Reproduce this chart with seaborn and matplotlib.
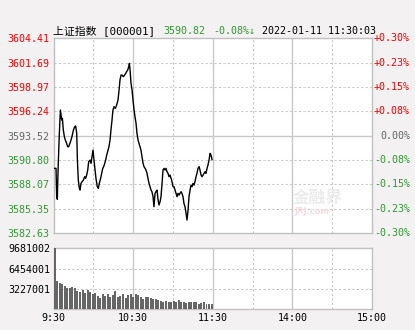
import numpy as np
import pandas as pd
import matplotlib
matplotlib.use("Agg")
import matplotlib.pyplot as plt
import matplotlib.transforms as mtransforms
import seaborn as sns

# ---------------- data ----------------
minutes = [0.6, 1.9, 2.4, 2.9, 3.1, 3.6, 4.4, 5.2, 6.2, 6.7, 7.4, 8.2, 8.9, 9.9, 10.7, 11.4, 12.4, 13.2, 13.9, 15.0,
           16.0, 16.7, 17.5, 18.0, 18.7, 19.5, 20.0, 20.7, 21.5, 22.5, 23.5, 24.2, 25.0, 25.8, 26.5, 27.5, 28.3, 29.0, 29.8, 30.5,
           31.3, 32.0, 33.0, 33.8, 34.5, 35.5, 36.3, 37.1, 37.8, 38.6, 39.3, 40.1, 41.1, 41.8, 42.6, 43.3, 44.1, 44.8, 45.6, 46.6,
           47.6, 48.6, 49.4, 50.1, 50.9, 51.6, 52.6, 53.6, 54.4, 55.1, 55.9, 56.7, 57.2, 57.7, 58.4, 59.2, 59.9, 60.7, 61.4, 62.2,
           62.9, 63.7, 64.4, 65.2, 65.9, 66.7, 67.5, 68.2, 69.0, 69.7, 70.5, 71.2, 72.0, 72.7, 73.5, 74.2, 75.0, 75.7, 76.5, 77.2,
           78.0, 78.8, 79.5, 80.3, 81.0, 81.8, 82.5, 83.3, 84.0, 84.8, 85.5, 86.3, 87.0, 87.8, 88.6, 89.3, 90.1, 90.8, 91.6, 92.3,
           93.1, 93.8, 94.6, 95.3, 96.1, 96.8, 97.6, 98.3, 99.1, 99.9, 100.6, 101.4, 102.1, 102.9, 103.6, 104.4, 105.1, 105.9, 106.6, 107.4,
           108.1, 108.9, 109.7, 110.4, 111.2, 111.9, 112.7, 113.4, 114.2, 114.9, 115.7, 116.4, 117.2, 118.0, 118.7, 119.5]
prices = [3589.86, 3589.86, 3586.69, 3586.40, 3587.81, 3590.42, 3593.78, 3596.39, 3595.27, 3595.45, 3594.15, 3593.40, 3593.03, 3592.66, 3592.28, 3592.28, 3592.66, 3593.03, 3593.40, 3594.15,
          3594.52, 3594.60, 3593.78, 3590.79, 3588.55, 3587.62, 3587.43, 3588.18, 3588.37, 3588.55, 3588.93, 3588.74, 3589.11, 3589.67, 3590.60, 3590.79, 3590.42, 3591.16, 3591.91, 3590.79,
          3589.67, 3588.74, 3587.81, 3587.62, 3588.18, 3588.74, 3589.30, 3589.86, 3590.05, 3590.42, 3590.79, 3591.35, 3591.91, 3592.28, 3593.03, 3594.15, 3595.27, 3596.39, 3596.76, 3596.57,
          3596.95, 3597.50, 3598.62, 3599.74, 3600.30, 3600.30, 3600.12, 3600.30, 3600.49, 3600.68, 3600.86, 3601.24, 3601.61, 3600.86, 3599.37, 3598.62, 3597.50, 3596.39, 3595.64, 3594.89,
          3593.78, 3593.03, 3592.66, 3592.28, 3591.91, 3591.16, 3590.42, 3590.05, 3589.86, 3589.67, 3589.30, 3588.74, 3588.18, 3587.81, 3587.43, 3587.25, 3586.69, 3585.57, 3587.06, 3587.25,
          3587.43, 3586.32, 3585.76, 3586.13, 3586.69, 3588.18, 3589.67, 3589.86, 3589.67, 3589.86, 3589.49, 3589.30, 3588.93, 3589.11, 3588.74, 3588.37, 3587.81, 3587.81, 3587.43, 3587.06,
          3586.69, 3587.06, 3586.87, 3587.06, 3587.25, 3587.06, 3586.69, 3585.94, 3585.57, 3584.82, 3584.08, 3585.20, 3586.69, 3587.43, 3587.99, 3587.81, 3588.18, 3587.99, 3588.37, 3588.93,
          3589.30, 3589.86, 3590.05, 3589.67, 3589.11, 3588.93, 3589.11, 3589.30, 3589.49, 3589.30, 3589.86, 3590.23, 3590.79, 3591.54, 3591.35, 3590.82]

volumes = [9680000, 4500000, 4250000, 4000000, 3740000, 3380000, 3330000, 3590000, 3380000, 2970000,
           2710000, 3070000, 2560000, 3000000, 2700000, 2460000, 2560000, 2050000, 1840000, 2360000,
           2050000, 2360000, 1950000, 2200000, 2870000, 1950000, 2050000, 2360000, 1840000, 2200000,
           2360000, 1950000, 2360000, 2200000, 1950000, 1690000, 1950000, 1950000, 1840000, 1690000,
           1690000, 1540000, 1330000, 1180000, 1330000, 1180000, 1180000, 1330000, 1180000, 1430000,
           1180000, 1180000, 1020000, 1180000, 1100000, 1180000, 1100000, 920000, 1020000, 1100000,
           920000, 920000, 920000]

price_ticks = [3582.63, 3585.35, 3588.07, 3590.80, 3593.52, 3596.24, 3598.97, 3601.69, 3604.41]
price_labels = ["3582.63", "3585.35", "3588.07", "3590.80", "3593.52", "3596.24", "3598.97", "3601.69", "3604.41"]
pct_labels = ["-0.30%", "-0.23%", "-0.15%", "-0.08%", "0.00%", "+0.08%", "+0.15%", "+0.23%", "+0.30%"]
vol_ticks = [3227001, 6454001, 9681002]
vol_labels = ["3227001", "6454001", "9681002"]
time_ticks = [0, 60, 120, 180, 240]
time_labels = ["9:30", "10:30", "11:30", "14:00", "15:00"]
grid_times = [0, 30, 60, 90, 120, 150, 180, 210, 240]
solid_times = [60, 120, 180]
prev_close = 3593.52
title_name = "上证指数 [000001]"
title_price = "3590.82"
title_chg = "-0.08%↓"
title_time = "2022-01-11 11:30:03"

# ---------------- style ----------------
BG = "#f3f1f1"
GRID = "#c8c8c8"
RED = "#ff0000"
GREEN = "#2e9a2e"
GRAY = "#666666"
W, H = 415, 330

sns.set_theme(style="white")
plt.rcParams["font.family"] = ["DejaVu Sans Mono", "Noto Sans CJK SC"]
FS = 7.2

fig = plt.figure(figsize=(W / 100, H / 100), dpi=100, facecolor=BG)

def fx(px):
    return px / W

def fy(py):
    return 1 - py / H

def level_color(v):
    if v > prev_close + 1e-6:
        return RED
    if v < prev_close - 1e-6:
        return GREEN
    return GRAY

L, R = 53.5, 372.0
ax = fig.add_axes([fx(L), fy(233.0), fx(R - L), (233.0 - 38.3) / H])
axv = fig.add_axes([fx(L), fy(309.3), fx(R - L), (309.3 - 248.3) / H])

for a in (ax, axv):
    a.set_facecolor("white")
    for s in a.spines.values():
        s.set_color("#c0c0c0")
        s.set_linewidth(1.0)
    for t in grid_times[1:-1]:
        if t in solid_times:
            a.axvline(t, color=GRID, lw=1.0, zorder=0)
        else:
            a.axvline(t, color=GRID, lw=0.8, ls=(0, (2, 2)), zorder=0)

for v in price_ticks[1:-1]:
    if abs(v - prev_close) < 1e-6:
        ax.axhline(v, color=GRID, lw=1.0, zorder=0)
    else:
        ax.axhline(v, color=GRID, lw=0.8, ls=(0, (2, 2)), zorder=0)
for v in vol_ticks[:-1]:
    axv.axhline(v, color=GRID, lw=0.8, ls=(0, (2, 2)), zorder=0)

# price line
df = pd.DataFrame({"minute": minutes, "price": prices})
sns.lineplot(data=df, x="minute", y="price", ax=ax, color="black", lw=1.0,
             estimator=None, sort=False, zorder=3)
ax.set_xlim(0, 240)
ax.set_ylim(price_ticks[0], price_ticks[-1])
ax.set_xlabel("")
ax.set_ylabel("")
ax.set_xticks([])
ax.set_yticks(price_ticks)
ax.set_yticklabels(price_labels, fontsize=FS)
ax.tick_params(axis="y", length=0, pad=3)
for lab, v in zip(ax.get_yticklabels(), price_ticks):
    lab.set_color(level_color(v))

# right-hand percentage labels (right aligned)
trans = mtransforms.blended_transform_factory(fig.transFigure, ax.transData)
for v, lab in zip(price_ticks, pct_labels):
    ax.text(fx(410), v, lab, transform=trans, ha="right", va="center",
            fontsize=FS, color=level_color(v), clip_on=False)

# volume bars
n = len(volumes)
vol_minutes = np.linspace(0.9, 119.1, n)
vdf = pd.DataFrame({"minute": vol_minutes, "volume": volumes})
sns.barplot(data=vdf, x="minute", y="volume", native_scale=True, color="#666666",
            saturation=1, width=0.78, errorbar=None, ax=axv, zorder=3,
            linewidth=0, edgecolor="none")
axv.set_xlim(0, 240)
axv.set_ylim(0, vol_ticks[-1])
axv.set_xlabel("")
axv.set_ylabel("")
axv.set_yticks(vol_ticks)
axv.set_yticklabels(vol_labels, fontsize=FS, color="black")
axv.set_xticks(time_ticks)
axv.set_xticklabels(time_labels, fontsize=FS, color="black")
axv.tick_params(axis="y", length=0, pad=2)
axv.tick_params(axis="x", length=0, pad=3)

# header
fig.text(fx(53), fy(31), title_name, fontsize=FS + 0.6, color="black", va="center", ha="left",
         family=["DejaVu Sans Mono", "Noto Sans CJK SC"])
fig.text(fx(163), fy(31), title_price, fontsize=FS, color=GREEN, va="center", ha="left")
fig.text(fx(213), fy(31), title_chg, fontsize=FS, color=GREEN, va="center", ha="left")
fig.text(fx(262), fy(31), title_time, fontsize=FS, color="black", va="center", ha="left")

# watermark
fig.text(fx(318), fy(198), "金融界", fontsize=12, color="#ececec", weight="bold",
         ha="center", va="center", family=["Noto Sans CJK SC"], zorder=1)
fig.text(fx(312), fy(212), "JRJ.com", fontsize=6, color="#f3dede", weight="bold",
         ha="center", va="center", family=["DejaVu Sans"], zorder=1)

fig.savefig("out.png", dpi=100, facecolor=BG)
